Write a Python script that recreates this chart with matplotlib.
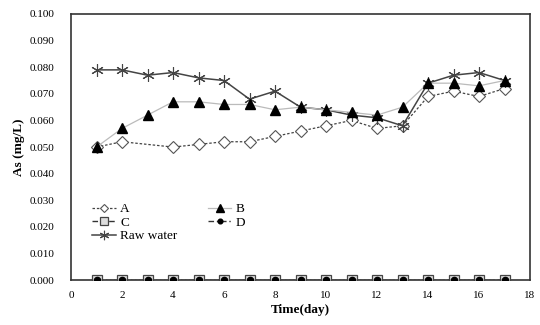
import numpy as np
import matplotlib
matplotlib.use("Agg")
import matplotlib.pyplot as plt

days = list(range(1, 18))
days_A = [1, 2, 4, 5, 6, 7, 8, 9, 10, 11, 12, 13, 14, 15, 16, 17]
A = [0.050, 0.052, 0.050, 0.051, 0.052, 0.052, 0.054, 0.056, 0.058, 0.060, 0.057, 0.058, 0.069, 0.071, 0.069, 0.072]
B = [0.050, 0.057, 0.062, 0.067, 0.067, 0.066, 0.066, 0.064, 0.065, 0.064, 0.063, 0.062, 0.065, 0.074, 0.074, 0.073, 0.075]
C = [0.0] * 17
D = [0.0] * 17
raw = [0.079, 0.079, 0.077, 0.078, 0.076, 0.075, 0.068, 0.071, 0.065, 0.064, 0.062, 0.061, 0.058, 0.074, 0.077, 0.078, 0.075]

xticks = [0, 2, 4, 6, 8, 10, 12, 14, 16, 18]
yticks = [0.0, 0.01, 0.02, 0.03, 0.04, 0.05, 0.06, 0.07, 0.08, 0.09, 0.10]

plt.rcParams['font.family'] = ['Liberation Serif', 'DejaVu Serif']

fig = plt.figure(figsize=(5.4, 3.25), dpi=100)
ax = fig.add_axes([0.1315, 0.138, 0.85, 0.819])

hA, = ax.plot(days_A, A, linestyle=(0, (2, 1.5)), color='#444444', lw=0.9,
              marker='D', markersize=6, markerfacecolor='white', markeredgecolor='#555555',
              markeredgewidth=0.8, label='A', zorder=3)
hB, = ax.plot(days, B, linestyle='-', color='#bbbbbb', lw=0.9,
              marker='^', markersize=7, markerfacecolor='black', markeredgecolor='black',
              label='B', zorder=4)
hC, = ax.plot(days, C, linestyle=(0, (4, 2)), color='#333333', lw=1.0,
              marker='s', markersize=7, markerfacecolor='#dddddd', markeredgecolor='#444444',
              markeredgewidth=0.9, label='C', zorder=3)
hD, = ax.plot(days, D, linestyle=(0, (4, 2, 1, 2)), color='#333333', lw=1.0,
              marker='o', markersize=4.5, markerfacecolor='black', markeredgecolor='black',
              label='D', zorder=4)
hR, = ax.plot(days, raw, linestyle='-', color='#444444', lw=1.1,
              marker=(6, 2, 0), markersize=9, markeredgecolor='#444444', markeredgewidth=0.8,
              label='Raw water', zorder=3)

ax.set_xlim(0, 18)
ax.set_ylim(0, 0.1)
ax.set_xticks(xticks)
ax.set_yticks(yticks)
ax.set_yticklabels([f"{v:.3f}" for v in yticks])
ax.tick_params(axis='y', length=0, labelsize=8, pad=12)
ax.tick_params(axis='x', length=0, labelsize=8, pad=8)
for s in ax.spines.values():
    s.set_color('#333333')
    s.set_linewidth(1.2)

ax.set_xlabel('Time(day)', fontsize=9.5, fontweight='bold', labelpad=3)
ax.set_ylabel('As (mg/L)', fontsize=9.5, fontweight='bold', labelpad=3)

handles = [hA, hC, hR, hB, hD]
leg = ax.legend(handles, [h.get_label() for h in handles], ncol=2, loc='upper left',
                bbox_to_anchor=(0.035, 0.31), frameon=False, markerscale=0.75,
                fontsize=9.5, handlelength=1.8, handletextpad=0.3, columnspacing=2.3,
                labelspacing=0.1, borderaxespad=0.0)

fig.savefig('out.png', dpi=100)
